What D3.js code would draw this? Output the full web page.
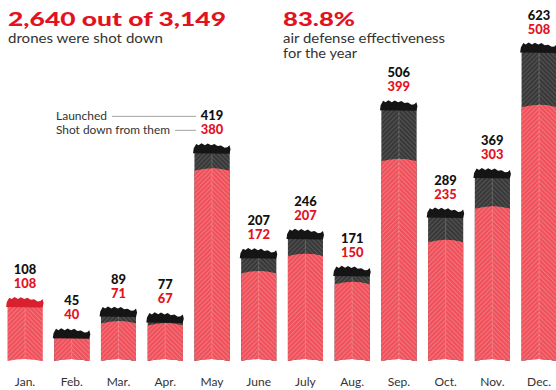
<!DOCTYPE html>
<html>
<head>
<meta charset="utf-8">
<script src="https://cdn.jsdelivr.net/npm/d3@7/dist/d3.min.js"></script>
<style>
  html, body { margin: 0; padding: 0; background: #fff; }
  svg { display: block; }
</style>
</head>
<body>
<svg id="chart" width="556" height="390"></svg>
<script>
// Monthly drone attacks: launched vs. shot down
const months = ["Jan.", "Feb.", "Mar.", "Apr.", "May", "June", "July", "Aug.", "Sep.", "Oct.", "Nov.", "Dec."];
const launched = [108, 45, 89, 77, 419, 207, 246, 171, 506, 289, 369, 623];
const shotDown = [108, 40, 71, 67, 380, 172, 207, 150, 399, 235, 303, 508];
const legendLabels = ["Launched", "Shot down from them"];
const legendMonth = "May";

const W = 556, H = 390;
const RED = "#e3121f", BAR_RED = "#ef5059", DARK = "#383838", INK = "#111", TEXT = "#333";
const HEAVY = "'Lato', 'Open Sans', sans-serif";
const LIGHT = "'Lato', 'Open Sans', sans-serif";

const svg = d3.select("#chart");
const defs = svg.append("defs");

// Herringbone texture: one hatch direction per half of each column
function hatch(id, base, line, angle) {
  const p = defs.append("pattern").attr("id", id)
    .attr("patternUnits", "userSpaceOnUse").attr("width", 3.2).attr("height", 3.2)
    .attr("patternTransform", `rotate(${angle})`);
  p.append("rect").attr("width", 3.2).attr("height", 3.2).attr("fill", base);
  p.append("rect").attr("width", 1).attr("height", 3.2).attr("fill", line);
}
hatch("redL", BAR_RED, "#f27780", 45);
hatch("redR", BAR_RED, "#f27780", -45);
hatch("darkL", DARK, "#555", 45);
hatch("darkR", DARK, "#555", -45);

const total = d3.sum(launched), down = d3.sum(shotDown);
const fmt = d3.format(",");

const x = d3.scaleBand().domain(months).range([7.5, 556.6]).paddingInner(0.25).paddingOuter(0);
const y = d3.scaleLinear().domain([0, d3.max(launched)]).range([356, 48]);

const data = months.map((m, i) => ({ m, launched: launched[i], shot: shotDown[i] }));

// Column outline: arched top, slightly lifted centre at the foot
function colPath(x0, w, yTop, yBot) {
  const a = 2.5, b = 2;
  return `M${x0},${yTop + a} Q${x0 + w / 2},${yTop - a} ${x0 + w},${yTop + a}` +
         ` L${x0 + w},${yBot} Q${x0 + w / 2},${yBot - 2 * b} ${x0},${yBot} Z`;
}

// Jagged pile of airframes sitting on top of each column
const capShape = [[-0.04, 2], [-0.02, -3], [0.05, -7], [0.12, -5], [0.2, -6.5], [0.3, -4],
  [0.38, -5.5], [0.48, -3.5], [0.57, -5], [0.66, -3], [0.76, -4], [0.86, -2.5], [0.94, -3.5],
  [1.0, -6], [1.03, -2], [1.0, 2.5]];
function capPath(x0, w, yTop) {
  const pts = capShape.map(([fx, dy]) => {
    const px = x0 + fx * w;
    const t = Math.min(Math.max(fx, 0), 1);
    const arc = 2.5 * (1 - 4 * (t - 0.5) * (t - 0.5)); // follows the arched top
    return [px, yTop + 2.5 - arc + dy];
  });
  return d3.line().curve(d3.curveLinear)(pts) + "Z";
}

const yBase = y(0) + 5;
const bars = svg.append("g").selectAll("g").data(data).join("g");

function numLabel(g, cx, yy, v, color) {
  const s = String(v);
  g.append("text").attr("x", cx).attr("y", yy)
    .attr("text-anchor", "middle").attr("font-family", HEAVY).attr("font-weight", 900)
    .attr("font-size", 12.5).attr("fill", color)
    .attr("textLength", s.length * 7.5).attr("lengthAdjust", "spacingAndGlyphs")
    .text(s);
}

bars.each(function (d, i) {
  const g = d3.select(this);
  const x0 = x(d.m), w = x.bandwidth();
  const clipId = "half" + i;
  defs.append("clipPath").attr("id", clipId)
    .append("rect").attr("x", x0 + w / 2).attr("y", 0).attr("width", w).attr("height", H);

  const layers = [];
  if (d.launched > d.shot) layers.push({ v: d.launched, L: "url(#darkL)", R: "url(#darkR)" });
  layers.push({ v: d.shot, L: "url(#redL)", R: "url(#redR)" });
  layers.forEach(l => {
    const p = colPath(x0, w, y(l.v), yBase);
    g.append("path").attr("d", p).attr("fill", l.L);
    g.append("path").attr("d", p).attr("fill", l.R).attr("clip-path", `url(#${clipId})`);
  });
  // centre fold
  g.append("line").attr("x1", x0 + w / 2).attr("x2", x0 + w / 2)
    .attr("y1", y(d.launched)).attr("y2", yBase - 2)
    .attr("stroke", "#fff").attr("stroke-opacity", 0.18).attr("stroke-width", 1);
  // cap
  g.append("path").attr("d", capPath(x0, w, y(d.launched)))
    .attr("fill", d.launched > d.shot ? "#151515" : "#d8202f");

  const cx = x0 + w / 2;
  numLabel(g, cx, y(d.launched) - 28.5, d.launched, INK);
  numLabel(g, cx, y(d.launched) - 14.5, d.shot, RED);
});

// Month axis
const axis = svg.append("g").attr("transform", `translate(0,${yBase})`)
  .call(d3.axisBottom(x).tickSize(0).tickPadding(16));
axis.select(".domain").remove();
axis.selectAll("text").attr("font-family", LIGHT).attr("font-size", 12).attr("fill", TEXT);

// Legend pointing at the May values
const lm = data.find(d => d.m === legendMonth);
const lx = x(lm.m) + x.bandwidth() / 2 - 16;
const legend = svg.append("g");
[[28.5, 112], [14.5, 175]].forEach(([off, lineStart], k) => {
  const by = y(lm.launched) - off;
  legend.append("text").attr("x", 56).attr("y", by).attr("font-family", LIGHT)
    .attr("font-size", 11).attr("fill", TEXT).text(legendLabels[k])
    .attr("textLength", k ? 114 : 51).attr("lengthAdjust", "spacingAndGlyphs");
  legend.append("line").attr("x1", lineStart).attr("x2", lx).attr("y1", by - 4).attr("y2", by - 4)
    .attr("stroke", "#8a8a8a").attr("stroke-width", 0.8);
});

// Headline figures
function fitWidth(sel, width) {
  sel.attr("textLength", width).attr("lengthAdjust", "spacingAndGlyphs");
}
svg.append("text").attr("x", 8).attr("y", 26).attr("font-family", HEAVY).attr("font-weight", 900)
  .attr("font-size", 19.5).attr("fill", RED)
  .text(`${fmt(down)} out of ${fmt(total)}`).call(fitWidth, 218);
svg.append("text").attr("x", 8).attr("y", 43).attr("font-family", LIGHT)
  .attr("font-size", 13).attr("fill", TEXT).text("drones were shot down").call(fitWidth, 155);

svg.append("text").attr("x", 283).attr("y", 26).attr("font-family", HEAVY).attr("font-weight", 900)
  .attr("font-size", 19.5).attr("fill", RED)
  .text(d3.format(".1%")(down / total)).call(fitWidth, 72);
svg.append("text").attr("x", 283).attr("y", 42.5).attr("font-family", LIGHT)
  .attr("font-size", 12.5).attr("fill", TEXT).text("air defense effectiveness").call(fitWidth, 162);
svg.append("text").attr("x", 283).attr("y", 57.5).attr("font-family", LIGHT)
  .attr("font-size", 12.5).attr("fill", TEXT).text("for the year").call(fitWidth, 74);
</script>
</body>
</html>
